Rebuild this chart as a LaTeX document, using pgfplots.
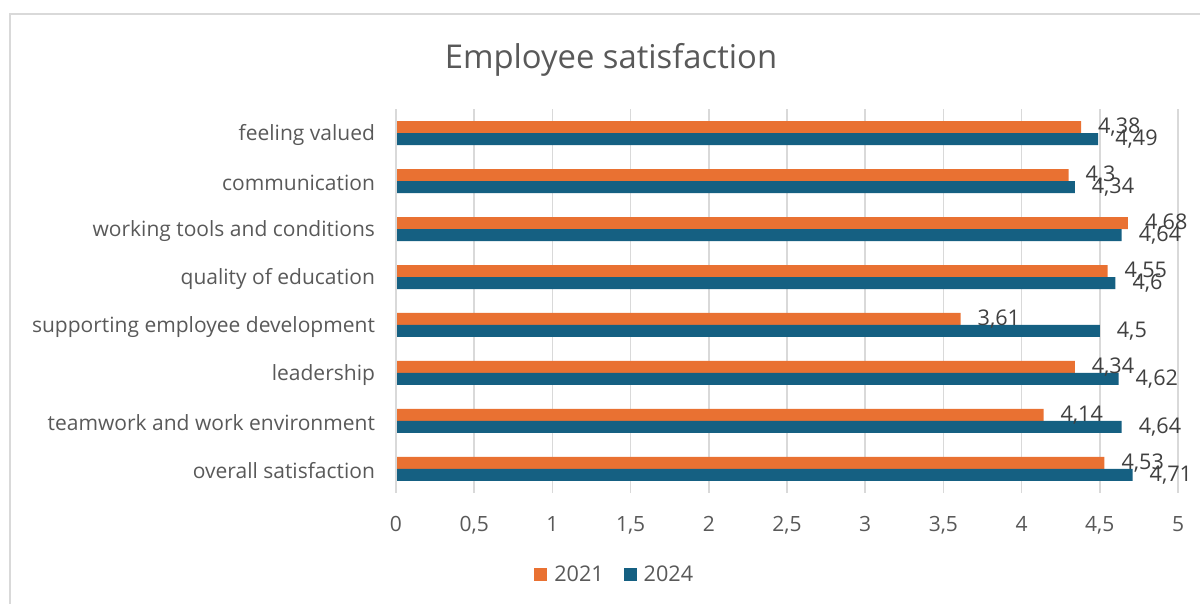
\documentclass[border=0pt]{standalone}
\usepackage{fontspec}
\setmainfont{Open Sans}
\usepackage{pgfplots}
\pgfplotsset{compat=1.18}
\definecolor{orng}{HTML}{E97132}
\definecolor{blu}{HTML}{156082}
\definecolor{txt}{HTML}{595959}
\definecolor{vtxt}{HTML}{404040}
\definecolor{grd}{HTML}{D9D9D9}
\begin{document}
\begin{tikzpicture}
\useasboundingbox (0,0) rectangle (600pt,302pt);
\draw[grd, line width=1pt] (5pt,-2pt) -- (5pt,295pt) -- (602pt,295pt);
\node[txt, font=\fontsize{16.4}{18}\selectfont] at (305.5pt,272pt) {Employee satisfaction};
\begin{axis}[
  at={(198pt,55.5pt)}, anchor=south west,
  scale only axis, width=391pt, height=192pt,
  xbar, bar width=6pt,
  xmin=0, xmax=5, ymin=-0.5, ymax=7.5,
  xtick={0,0.5,1,1.5,2,2.5,3,3.5,4,4.5,5}, ytick={0,1,2,3,4,5,6,7},
  yticklabels={overall satisfaction, teamwork and work environment, leadership, supporting employee development, quality of education, working tools and conditions, communication, feeling valued},
  major tick length=0pt,
  axis line style={draw=none},
  xmajorgrids, grid style={grd, line width=0.75pt},
  tick label style={txt, font=\fontsize{10.5}{12}\selectfont},
  xticklabel style={yshift=-8pt},
  yticklabel style={xshift=-7pt, yshift=-1pt},
  /pgf/number format/.cd, use comma, assume math mode=true, fixed, precision=2,
  /pgfplots/.cd,
  nodes near coords,
  nodes near coords style={font=\fontsize{10.8}{12}\selectfont, color=vtxt, anchor=west, xshift=5pt},
  legend style={at={(0.281,-0.2135)}, anchor=center, draw=none, legend columns=2,
    font=\fontsize{10.8}{12}\selectfont, text=txt,
    /tikz/every odd column/.append style={column sep=1.5pt},
    /tikz/every even column/.append style={column sep=8pt}},
  legend image code/.code={\fill[#1] (0pt,-3.25pt) rectangle (6.5pt,3.25pt);},
]
\addplot[fill=orng, draw=none, bar shift=3pt] coordinates {(4.53,0) (4.14,1) (4.34,2) (3.61,3) (4.55,4) (4.68,5) (4.3,6) (4.38,7)};
\addplot[fill=blu, draw=none, bar shift=-3pt] coordinates {(4.71,0) (4.64,1) (4.62,2) (4.5,3) (4.6,4) (4.64,5) (4.34,6) (4.49,7)};
\legend{2021,2024}
\draw[grd, line width=0.75pt] (rel axis cs:0,0) -- (rel axis cs:0,1);
\end{axis}
\end{tikzpicture}
\end{document}
